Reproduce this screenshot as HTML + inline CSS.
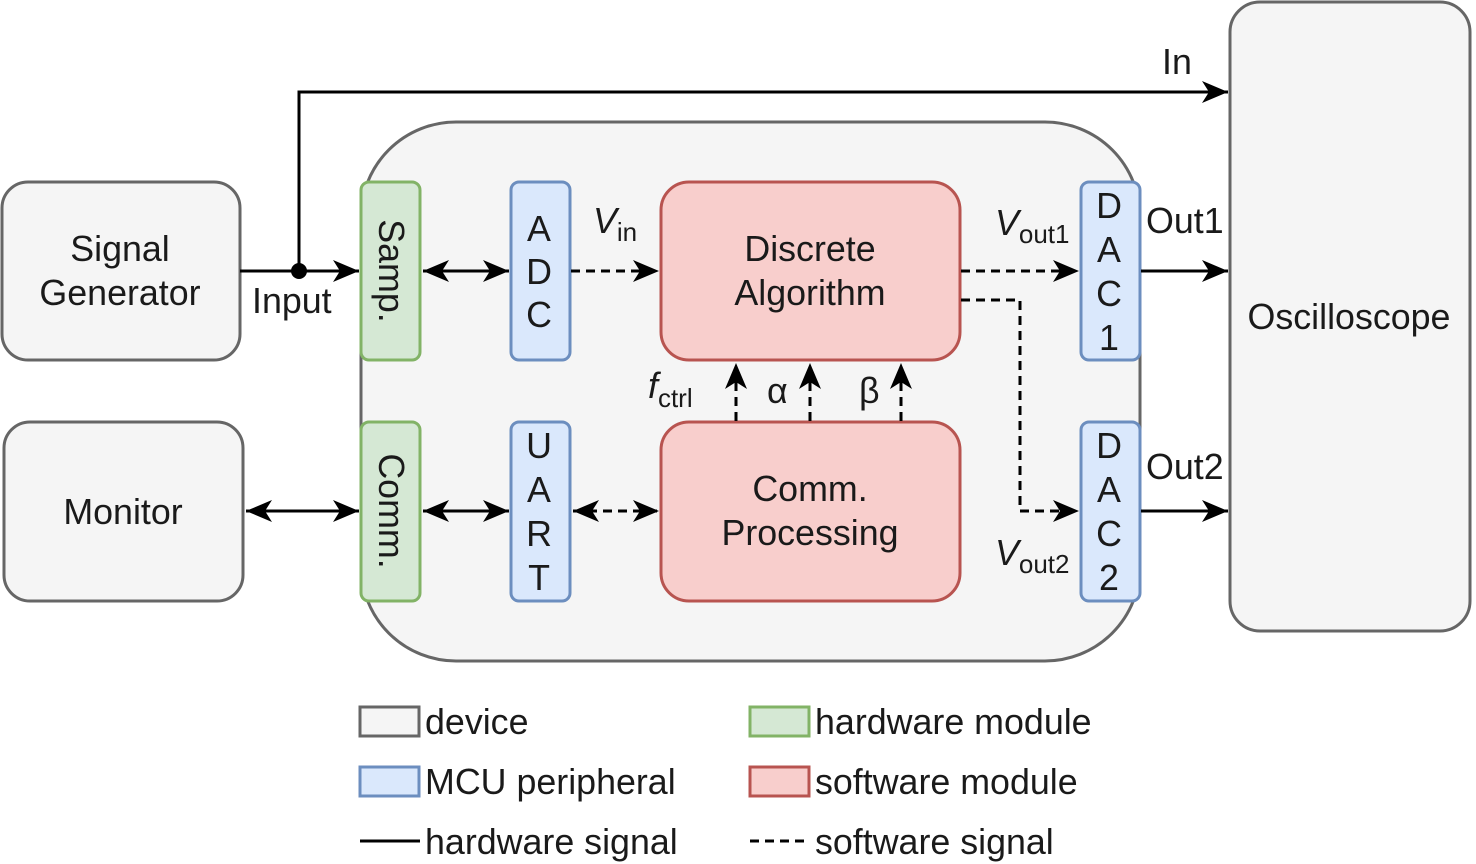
<!DOCTYPE html>
<html><head><meta charset="utf-8"><style>
html,body{margin:0;padding:0;background:#fff}
svg{display:block}
text{font-family:"Liberation Sans",Arial,sans-serif;font-size:35.8px;fill:#1a1a1a}
</style></head><body>
<svg width="1476" height="864" viewBox="0 0 1476 864" xmlns="http://www.w3.org/2000/svg">
<defs>
<marker id="a" markerUnits="userSpaceOnUse" markerWidth="30" markerHeight="30" refX="26" refY="12" orient="auto-start-reverse">
<path d="M0,1 L26,12 L0,23 L7,12 Z" fill="#000"/>
</marker>
</defs>
<g stroke-width="3">
<rect x="2" y="182" width="238" height="178" rx="26" fill="#f5f5f5" stroke="#666"/>
<rect x="4" y="422" width="239" height="179" rx="26" fill="#f5f5f5" stroke="#666"/>
<rect x="361" y="122" width="779" height="539" rx="95" fill="#f5f5f5" stroke="#666"/>
<rect x="1230" y="2" width="240" height="629" rx="30" fill="#f5f5f5" stroke="#666"/>
<rect x="361" y="182" width="59" height="178" rx="8" fill="#d5e8d4" stroke="#82b366"/>
<rect x="361" y="422" width="59" height="179" rx="8" fill="#d5e8d4" stroke="#82b366"/>
<rect x="511" y="182" width="59" height="178" rx="8" fill="#dae8fc" stroke="#6c8ebf"/>
<rect x="511" y="422" width="59" height="179" rx="8" fill="#dae8fc" stroke="#6c8ebf"/>
<rect x="1081" y="182" width="59" height="178" rx="8" fill="#dae8fc" stroke="#6c8ebf"/>
<rect x="1081" y="422" width="59" height="179" rx="8" fill="#dae8fc" stroke="#6c8ebf"/>
<rect x="661" y="182" width="299" height="178" rx="28" fill="#f8cecc" stroke="#b85450"/>
<rect x="661" y="422" width="299" height="179" rx="28" fill="#f8cecc" stroke="#b85450"/>
<rect x="360" y="707" width="59" height="29" fill="#f5f5f5" stroke="#666"/>
<rect x="360" y="767" width="59" height="29" fill="#dae8fc" stroke="#6c8ebf"/>
<rect x="750" y="707" width="59" height="29" fill="#d5e8d4" stroke="#82b366"/>
<rect x="750" y="767" width="59" height="29" fill="#f8cecc" stroke="#b85450"/>
</g>
<g stroke="#000" stroke-width="3" fill="none">
<line x1="240" y1="271" x2="359" y2="271" marker-end="url(#a)"/>
<polyline points="299,271 299,92 1228,92" marker-end="url(#a)"/>
<line x1="423" y1="271" x2="509" y2="271" marker-start="url(#a)" marker-end="url(#a)"/>
<line x1="1141" y1="271" x2="1228" y2="271" marker-end="url(#a)"/>
<line x1="1141" y1="511" x2="1228" y2="511" marker-end="url(#a)"/>
<line x1="246" y1="511" x2="359" y2="511" marker-start="url(#a)" marker-end="url(#a)"/>
<line x1="423" y1="511" x2="509" y2="511" marker-start="url(#a)" marker-end="url(#a)"/>
<line x1="360" y1="841" x2="420" y2="841"/>
<g stroke-dasharray="9,6">
<line x1="571" y1="271" x2="659" y2="271" marker-end="url(#a)"/>
<line x1="961" y1="271" x2="1079" y2="271" marker-end="url(#a)"/>
<polyline points="961,300 1020,300 1020,511 1079,511" marker-end="url(#a)"/>
<line x1="573" y1="511" x2="659" y2="511" marker-start="url(#a)" marker-end="url(#a)"/>
<line x1="736" y1="421" x2="736" y2="363" marker-end="url(#a)"/>
<line x1="810" y1="421" x2="810" y2="363" marker-end="url(#a)"/>
<line x1="901" y1="421" x2="901" y2="363" marker-end="url(#a)"/>
<line x1="750" y1="841" x2="810" y2="841"/>
</g>
</g>
<circle cx="299" cy="271" r="8" fill="#000"/>
<g text-anchor="middle">
<text x="120" y="261">Signal</text>
<text x="120" y="305">Generator</text>
<text x="123" y="524">Monitor</text>
<text x="1349" y="329">Oscilloscope</text>
<text x="810" y="261">Discrete</text>
<text x="810" y="305">Algorithm</text>
<text x="810" y="501">Comm.</text>
<text x="810" y="545">Processing</text>
<text x="539" y="241">A</text><text x="539" y="284">D</text><text x="539" y="327">C</text>
<text x="539" y="458">U</text><text x="539" y="502">A</text><text x="539" y="546">R</text><text x="539" y="590">T</text>
<text x="1109" y="218">D</text><text x="1109" y="262">A</text><text x="1109" y="306">C</text><text x="1109" y="350">1</text>
<text x="1109" y="458">D</text><text x="1109" y="502">A</text><text x="1109" y="546">C</text><text x="1109" y="590">2</text>
<text transform="translate(379,271) rotate(90)">Samp.</text>
<text transform="translate(379,511) rotate(90)">Comm.</text>
</g>
<text x="1162" y="74">In</text>
<text x="252" y="313">Input</text>
<text x="1146" y="233">Out1</text>
<text x="1146" y="479">Out2</text>
<text x="593" y="233"><tspan font-style="italic">V</tspan><tspan font-size="26" dy="8">in</tspan></text>
<text x="995" y="235"><tspan font-style="italic">V</tspan><tspan font-size="26" dy="8">out1</tspan></text>
<text x="995" y="565"><tspan font-style="italic">V</tspan><tspan font-size="26" dy="8">out2</tspan></text>
<text x="648" y="398"><tspan font-style="italic">f</tspan><tspan font-size="26" dy="9">ctrl</tspan></text>
<text x="767" y="403">α</text>
<text x="859" y="403">β</text>
<text x="425" y="734">device</text>
<text x="425" y="794">MCU peripheral</text>
<text x="425" y="854">hardware signal</text>
<text x="815" y="734">hardware module</text>
<text x="815" y="794">software module</text>
<text x="815" y="854">software signal</text>
</svg>
</body></html>
